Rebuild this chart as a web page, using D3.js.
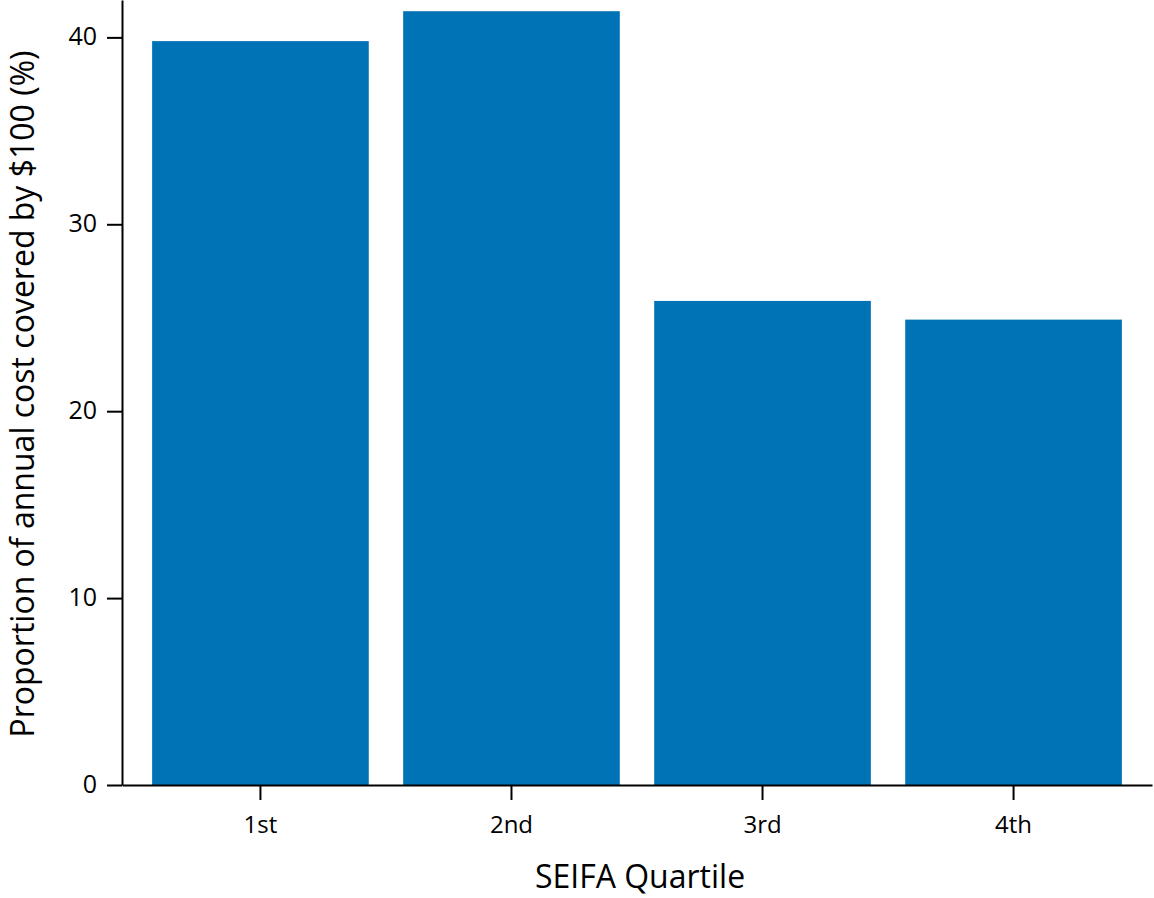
<!DOCTYPE html>
<html>
<head>
<meta charset="utf-8">
<script src="https://cdn.jsdelivr.net/npm/d3@7"></script>
<style>
  body { margin: 0; background: #fff; }
  text { font-family: "Open Sans", sans-serif; fill: #000; }
</style>
</head>
<body>
<div id="chart"></div>
<script>
const quartiles = ["1st", "2nd", "3rd", "4th"];
const proportions = [39.8, 41.4, 25.9, 24.9];
const yTicks = [0, 10, 20, 30, 40];

const width = 1154, height = 898;
const margin = { left: 122, right: 2, top: 0, bottom: 113 };

const svg = d3.select("#chart").append("svg")
  .attr("width", width)
  .attr("height", height);

const x = d3.scaleBand()
  .domain(quartiles)
  .range([margin.left, width - margin.right])
  .paddingInner(0.137)
  .paddingOuter(0.12);

const y = d3.scaleLinear()
  .domain([0, 42])
  .range([height - margin.bottom, margin.top]);

svg.selectAll("rect.bar")
  .data(quartiles)
  .enter()
  .append("rect")
  .attr("class", "bar")
  .attr("x", d => x(d))
  .attr("width", x.bandwidth())
  .attr("y", (d, i) => y(proportions[i]))
  .attr("height", (d, i) => y(0) - y(proportions[i]))
  .attr("fill", "#0072b6");

// y axis
const yAxis = svg.append("g")
  .attr("transform", `translate(${margin.left},0)`)
  .call(d3.axisLeft(y).tickValues(yTicks).tickSize(15).tickSizeOuter(0).tickPadding(10));
yAxis.select(".domain").attr("stroke", "#000").attr("stroke-width", 2);
yAxis.selectAll(".tick line").attr("stroke", "#000").attr("stroke-width", 2);
yAxis.selectAll(".tick text").style("font-size", "25px").attr("dy", "0.3em");

// x axis
const xAxis = svg.append("g")
  .attr("transform", `translate(0,${y(0)})`)
  .call(d3.axisBottom(x).tickSize(15).tickSizeOuter(0).tickPadding(16));
xAxis.select(".domain").attr("stroke", "#000").attr("stroke-width", 2);
xAxis.selectAll(".tick line").attr("stroke", "#000").attr("stroke-width", 2);
xAxis.selectAll(".tick text").style("font-size", "24px");

svg.append("text")
  .attr("x", 640)
  .attr("y", 888)
  .attr("text-anchor", "middle")
  .style("font-size", "32px")
  .text("SEIFA Quartile");

svg.append("text")
  .attr("transform", "translate(34,394) rotate(-90)")
  .attr("text-anchor", "middle")
  .style("font-size", "32px")
  .text("Proportion of annual cost covered by $100 (%)");
</script>
</body>
</html>
